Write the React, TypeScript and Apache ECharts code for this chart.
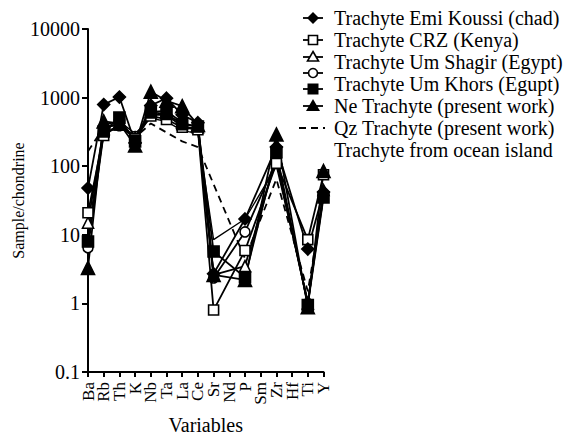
import React, { useEffect, useRef } from "react";
import * as echarts from "echarts";

const categories = ["Ba", "Rb", "Th", "K", "Nb", "Ta", "La", "Ce", "Sr", "Nd", "P", "Sm", "Zr", "Hf", "Ti", "Y"];

// null = element not analysed (Nd, Sm, Hf)
const emiKoussi = [48, 790, 1020, 220, 770, 980, 560, 430, 2.7, null, 17, null, 190, null, 6.2, 42];
const crzKenya = [21, 280, 400, 250, 540, 480, 370, 340, 0.8, null, 5.9, null, 110, null, 8.5, 75];
const umShagir = [15, 350, 430, 260, 620, 640, 430, 370, 2.6, null, 3.5, null, 130, null, 1.0, 45];
const umKhorsA = [6.5, 300, 390, 270, 560, 560, 380, 350, 2.35, null, 11, null, 120, null, 1.0, 38];
const umKhors = [8, 320, 510, 230, 610, 580, 410, 380, 5.7, null, 2.4, null, 160, null, 0.95, 35];
const neTrachyte = [3.3, 450, 420, 200, 1220, 900, 750, 400, 2.6, null, 2.2, null, 290, null, 0.88, 85];
const qzTrachyte = [165, 370, 400, 260, 420, 310, 230, 190, null, null, 4.5, null, 65, null, 1.5, 35];
const oceanIsland = [10, 400, 450, 300, 500, 450, 330, 300, 8.5, null, 17, null, 100, null, 1.1, 45];

const yTicks = [0.1, 1, 10, 100, 1000, 10000];

const legendTexts = [
  "Trachyte Emi Koussi (chad)",
  "Trachyte CRZ (Kenya)",
  "Trachyte Um Shagir (Egypt)",
  "Trachyte Um Khors (Egupt)",
  "Ne Trachyte (present work)",
  "Qz Trachyte (present work)",
  "Trachyte from ocean island",
];

const FONT = "Liberation Serif";

export default function App() {
  const ref = useRef<HTMLDivElement>(null);
  useEffect(() => {
    if (!ref.current) return;
    const chart = echarts.init(ref.current, undefined, { renderer: "svg", width: 576, height: 440 });

    const markerSeries = (name: string, data: (number | null)[], symbol: string, size: number, filled: boolean) => ({
      name,
      type: "line",
      data,
      connectNulls: true,
      symbol,
      symbolSize: size,
      showAllSymbol: true,
      lineStyle: { color: "#000", width: 1.8 },
      itemStyle: { color: filled ? "#000" : "#fff", borderColor: "#000", borderWidth: 1.6 },
      emphasis: { disabled: true },
      z: 3,
    });

    const lx = 313;
    const legendSymY = [18, 40, 57, 73, 89, 106, 128];
    const textY = [18, 40, 62, 84, 106, 128, 150];
    const g: any[] = [];
    for (let i = 0; i < 6; i++) {
      const y = legendSymY[i];
      g.push({ type: "line", shape: { x1: lx - 10, y1: y, x2: lx + 10, y2: y }, style: { stroke: "#000", lineWidth: 1.8 } });
    }
    const s = 6;
    g.push({ type: "polygon", shape: { points: [[lx, 18 - s], [lx + s, 18], [lx, 18 + s], [lx - s, 18]] }, style: { fill: "#000" } });
    g.push({ type: "rect", shape: { x: lx - 4.5, y: 40 - 4.5, width: 9, height: 9 }, style: { fill: "#fff", stroke: "#000", lineWidth: 1.6 } });
    g.push({ type: "polygon", shape: { points: [[lx, 57 - 5.5], [lx + 5.5, 57 + 4], [lx - 5.5, 57 + 4]] }, style: { fill: "#fff", stroke: "#000", lineWidth: 1.6 } });
    g.push({ type: "circle", shape: { cx: lx, cy: 73, r: 4.5 }, style: { fill: "#fff", stroke: "#000", lineWidth: 1.6 } });
    g.push({ type: "rect", shape: { x: lx - 5.5, y: 89 - 5.5, width: 11, height: 11 }, style: { fill: "#000" } });
    g.push({ type: "polygon", shape: { points: [[lx, 106 - 7], [lx + 7, 106 + 5], [lx - 7, 106 + 5]] }, style: { fill: "#000" } });
    g.push({ type: "line", shape: { x1: lx - 14, y1: 128, x2: lx + 12, y2: 128 }, style: { stroke: "#000", lineWidth: 1.8, lineDash: [7, 5] } });
    legendTexts.forEach((t, i) => {
      g.push({
        type: "text",
        style: { text: t, x: 334, y: textY[i], fill: "#000", font: `20px "${FONT}"`, verticalAlign: "middle", textVerticalAlign: "middle" },
      });
    });

    chart.setOption({
      animation: false,
      backgroundColor: "#fff",
      textStyle: { fontFamily: FONT },
      grid: { left: 88, top: 29, width: 235.5, height: 351, containLabel: false },
      xAxis: {
        type: "category",
        data: categories,
        boundaryGap: false,
        name: "Variables",
        nameLocation: "middle",
        nameGap: 43,
        nameTextStyle: { fontFamily: FONT, fontSize: 20, color: "#000" },
        axisLine: { lineStyle: { color: "#000", width: 2 } },
        axisTick: { show: true, length: 5, lineStyle: { color: "#000", width: 2 }, interval: 0 },
        axisLabel: { rotate: 90, interval: 0, margin: 10, fontFamily: FONT, fontSize: 17, color: "#000" },
        splitLine: { show: false },
      },
      yAxis: {
        type: "log",
        logBase: 10,
        min: 0.1,
        max: 10000,
        splitNumber: 5,
        name: "Sample/chondrine",
        nameLocation: "middle",
        nameGap: 54,
        nameTextStyle: { fontFamily: FONT, fontSize: 16, color: "#000" },
        axisLine: { show: true, lineStyle: { color: "#000", width: 2 } },
        axisTick: { show: true, length: 6, lineStyle: { color: "#000", width: 2 } },
        axisLabel: {
          margin: 8,
          fontFamily: FONT,
          fontSize: 20,
          color: "#000",
          formatter: (v: number) => {
            const m = yTicks.find((t) => Math.abs(Math.log10(t) - Math.log10(v)) < 1e-6);
            return m !== undefined ? String(m) : "";
          },
        },
        splitLine: { show: false },
        minorTick: { show: false },
      },
      series: [
        {
          name: "Trachyte from ocean island",
          type: "line",
          data: oceanIsland,
          connectNulls: true,
          symbol: "none",
          lineStyle: { color: "#000", width: 1.3 },
          emphasis: { disabled: true },
          z: 2,
        },
        {
          name: "Qz Trachyte (present work)",
          type: "line",
          data: qzTrachyte,
          connectNulls: true,
          symbol: "none",
          lineStyle: { color: "#000", width: 1.8, type: [7, 5] },
          emphasis: { disabled: true },
          z: 2,
        },
        markerSeries("Trachyte Um Khors (Egupt) B", umKhorsA, "circle", 10, false),
        markerSeries("Trachyte Um Shagir (Egypt)", umShagir, "triangle", 11, false),
        markerSeries("Trachyte CRZ (Kenya)", crzKenya, "rect", 10, false),
        markerSeries("Trachyte Um Khors (Egupt)", umKhors, "rect", 11, true),
        markerSeries("Trachyte Emi Koussi (chad)", emiKoussi, "diamond", 12, true),
        markerSeries("Ne Trachyte (present work)", neTrachyte, "triangle", 13, true),
      ],
      graphic: g,
    });
    return () => chart.dispose();
  }, []);
  return <div ref={ref} style={{ width: 576, height: 440, position: "absolute", left: 0, top: 0 }} />;
}
